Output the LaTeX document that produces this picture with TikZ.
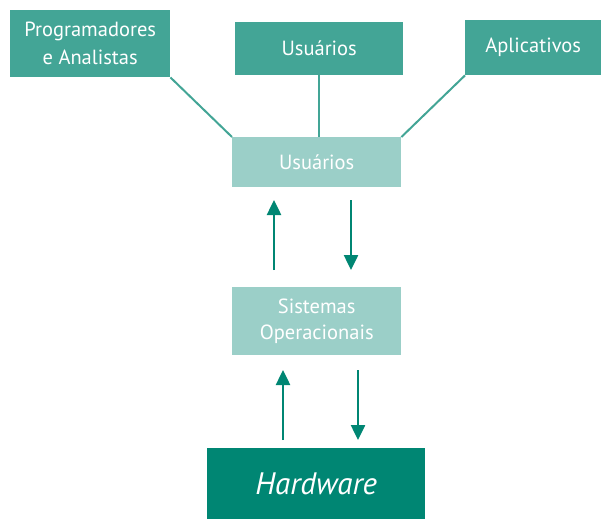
\documentclass[tikz,border=0pt]{standalone}
\usepackage{fontspec}
\setmainfont{PT Sans}
\usetikzlibrary{arrows.meta}
\definecolor{teal1}{HTML}{43A596}
\definecolor{teal2}{HTML}{9BCFC8}
\definecolor{teal3}{HTML}{008673}
\begin{document}
\begin{tikzpicture}[x=1pt,y=-1pt,
  topbox/.style={fill=teal1,text=white,inner sep=0pt,anchor=north west,align=center,font=\fontsize{20.5}{28}\selectfont},
  midbox/.style={fill=teal2,text=white,inner sep=0pt,anchor=north west,align=center,font=\fontsize{20.5}{26}\selectfont},
  hwbox/.style={fill=teal3,text=white,inner sep=0pt,anchor=north west,align=center,font=\fontsize{31}{34}\selectfont\itshape},
  link/.style={draw=teal1,line width=2pt},
  flow/.style={draw=teal3,line width=2.5pt,-{Triangle[length=15pt,width=14pt]}}]
\useasboundingbox (0,0) rectangle (601,519);
\node[topbox,minimum width=160pt,minimum height=67pt] (prog) at (10,10) {Programadores\\e Analistas};
\node[topbox,minimum width=168pt,minimum height=53pt] (usr1) at (235,22) {Usuários};
\node[topbox,minimum width=136pt,minimum height=55pt] (apl) at (465,20) {Aplicativos};
\node[midbox,minimum width=169pt,minimum height=50pt] (usr2) at (232,137) {Usuários};
\node[midbox,minimum width=169pt,minimum height=68pt] (so) at (232,287) {Sistemas\\Operacionais};
\node[hwbox,minimum width=218pt,minimum height=71pt] (hw) at (207,448) {Hardware};
\draw[link] (prog.south east) -- (usr2.north west);
\draw[link] (usr1.south) -- (usr1.south |- usr2.north);
\draw[link] (apl.south west) -- (usr2.north east);
\coordinate (a1s) at (274,270); \coordinate (a1e) at (274,200);
\coordinate (a2s) at (351,200); \coordinate (a2e) at (351,270);
\coordinate (a3s) at (283,440); \coordinate (a3e) at (283,370);
\coordinate (a4s) at (358,370); \coordinate (a4e) at (358,440);
\draw[flow] (a1s) -- (a1e);
\draw[flow] (a2s) -- (a2e);
\draw[flow] (a3s) -- (a3e);
\draw[flow] (a4s) -- (a4e);
\end{tikzpicture}
\end{document}
